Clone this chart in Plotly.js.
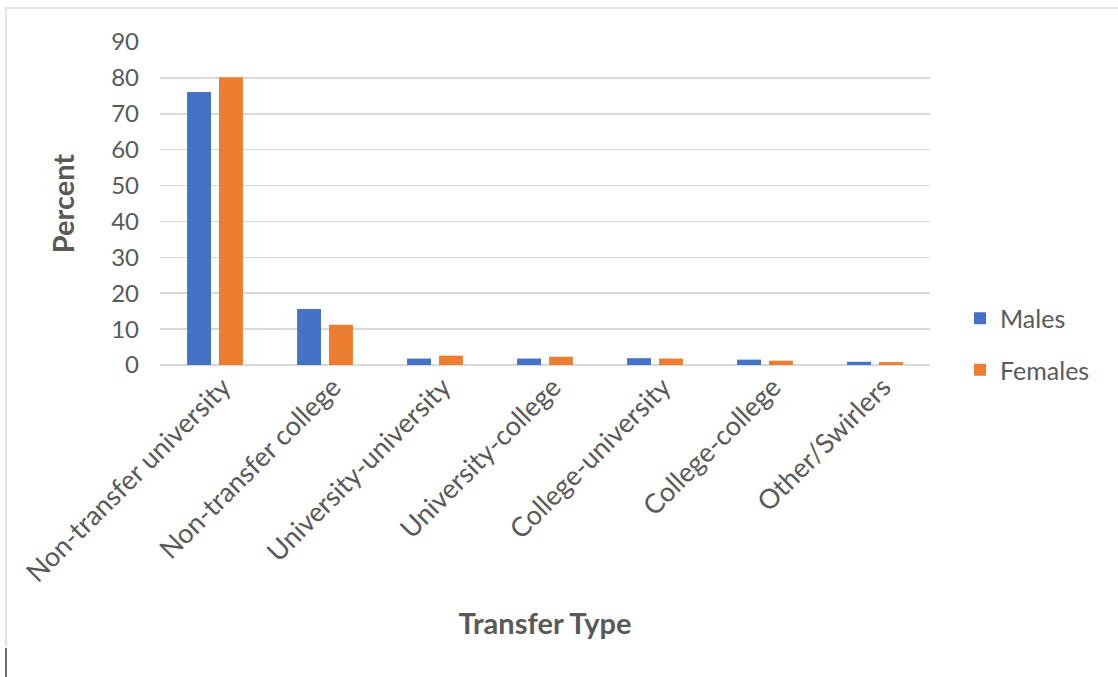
<!DOCTYPE html>
<html>
<head>
<meta charset="utf-8">
<script src="https://cdn.plot.ly/plotly-3.0.1.min.js"></script>
<style>
  html, body { margin: 0; padding: 0; background: #ffffff; }
  #wrap { position: relative; width: 1118px; height: 677px; overflow: hidden; }
  #chart { position: absolute; left: 0; top: 0; width: 1118px; height: 677px; }
  .frame-top { position: absolute; left: 5px; top: 7px; width: 1113px; height: 2px; background: #e3e3e3; }
  .frame-left { position: absolute; left: 5px; top: 7px; width: 2px; height: 640px; background: #e3e3e3; }
  .frame-dark { position: absolute; left: 5px; top: 648px; width: 2px; height: 29px; background: #6b6b6b; }
</style>
</head>
<body>
<div id="wrap">
  <div id="chart"></div>
  <div class="frame-top"></div>
  <div class="frame-left"></div>
  <div class="frame-dark"></div>
</div>
<script>
const categories = [
  "Non-transfer university",
  "Non-transfer college",
  "University-university",
  "University-college",
  "College-university",
  "College-college",
  "Other/Swirlers"
];
const males   = [76.1, 15.6, 1.8, 1.8, 1.9, 1.5, 0.9];
const females = [80.2, 11.2, 2.6, 2.3, 1.8, 1.2, 0.8];
const yTicks  = [0, 10, 20, 30, 40, 50, 60, 70, 80, 90];

const FONT = "Lato, 'Open Sans', sans-serif";
const TXT = "#595959";

const traces = [
  { type: "bar", name: "Males", x: categories, y: males,
    marker: { color: "#4472C4" }, legendgroup: "m", hoverinfo: "x+y+name" },
  { type: "bar", name: "Females", x: categories, y: females,
    marker: { color: "#ED7D31" }, legendgroup: "f", hoverinfo: "x+y+name" }
];

const layout = {
  width: 1118, height: 677,
  margin: { l: 160, r: 188, t: 42, b: 312, pad: 0 },
  paper_bgcolor: "#ffffff", plot_bgcolor: "#ffffff",
  font: { family: FONT, color: TXT, size: 24 },
  barmode: "group", bargap: 0.42, bargroupgap: 0.25,
  showlegend: true,
  legend: {
    x: 1.039, xanchor: "left", y: 0.065, yanchor: "middle",
    font: { family: FONT, size: 25, color: TXT },
    tracegroupgap: 16, traceorder: "grouped",
    itemwidth: 30, bgcolor: "rgba(0,0,0,0)"
  },
  xaxis: {
    type: "category", tickangle: -45, automargin: false,
    showgrid: false, showline: false, ticks: "",
    ticklabelshift: 8,
    tickfont: { family: FONT, size: 27, color: TXT },
    title: { text: "Transfer Type", standoff: 26,
      font: { family: FONT, size: 29, color: TXT, weight: "bold" } }
  },
  yaxis: {
    range: [0, 90], tickvals: yTicks, ticktext: yTicks.map(String),
    automargin: false, showline: false, ticks: "",
    gridcolor: "#d9d9d9", gridwidth: 1.5,
    zeroline: true, zerolinecolor: "#d9d9d9", zerolinewidth: 1.5,
    ticklabelstandoff: 20,
    tickfont: { family: FONT, size: 24, color: TXT },
    title: { text: "Percent", standoff: 28,
      font: { family: FONT, size: 29, color: TXT, weight: "bold" } }
  }
};

Plotly.newPlot("chart", traces, layout, { displayModeBar: false, staticPlot: true });
</script>
</body>
</html>
